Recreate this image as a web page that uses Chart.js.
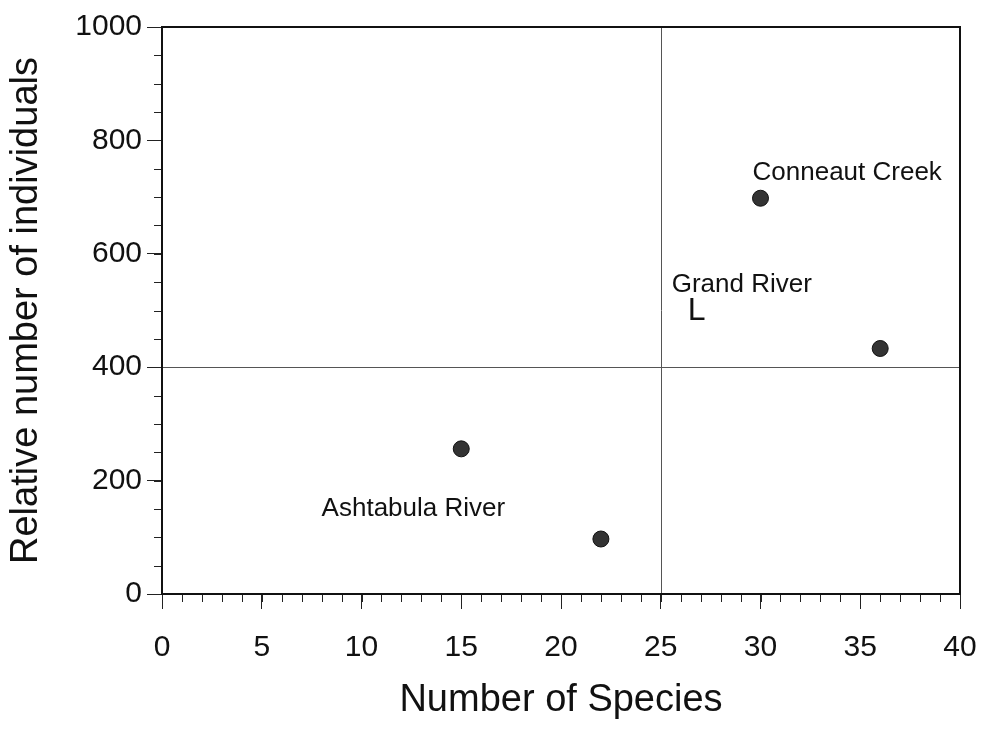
<!DOCTYPE html>
<html>
<head>
<meta charset="utf-8">
<script src="https://cdn.jsdelivr.net/npm/chart.js@4/dist/chart.umd.min.js"></script>
<style>
  html, body { margin: 0; padding: 0; background: #fff; }
  #wrap { width: 985px; height: 729px; }
</style>
</head>
<body>
<div id="wrap"><canvas id="c" width="985" height="729"></canvas></div>
<script>
// Sampling sites: species richness vs. relative abundance
const speciesCount = [15, 22, 30, 36];
const individuals = [256, 97, 698, 433];

// Axis ticks
const xTicks = [0, 5, 10, 15, 20, 25, 30, 35, 40];
const yTicks = [0, 200, 400, 600, 800, 1000];
const xMinorStep = 1;
const yMinorStep = 50;

// Quadrant dividers
const speciesDivider = 25;
const individualsDivider = 400;

// Site names placed in data units
const siteLabels = ['Conneaut Creek', 'Grand River', 'L', 'Ashtabula River'];
const siteLabelX = [29.6, 25.55, 26.35, 8.0];
const siteLabelY = [742, 545, 498, 150];
const siteLabelSize = [26, 26, 32, 26];

const FONT = '"Liberation Sans", Arial, Helvetica, sans-serif';
const INK = '#111';

const decor = {
  id: 'decor',
  beforeDatasetsDraw(chart) {
    const { ctx, chartArea: a, scales: { x, y } } = chart;
    ctx.save();

    // quadrant divider lines
    ctx.strokeStyle = '#555';
    ctx.lineWidth = 1;
    const vx = Math.round(x.getPixelForValue(speciesDivider)) + 0.5;
    const hy = Math.round(y.getPixelForValue(individualsDivider)) + 0.5;
    ctx.beginPath();
    ctx.moveTo(vx, a.top); ctx.lineTo(vx, a.bottom);
    ctx.moveTo(a.left, hy); ctx.lineTo(a.right, hy);
    ctx.stroke();

    // minor ticks, pointing outward
    ctx.strokeStyle = '#222';
    ctx.lineWidth = 1;
    ctx.beginPath();
    for (let v = x.min; v <= x.max; v += xMinorStep) {
      const px = Math.round(x.getPixelForValue(v)) + 0.5;
      ctx.moveTo(px, a.bottom); ctx.lineTo(px, a.bottom + 8);
    }
    for (let v = y.min; v <= y.max; v += yMinorStep) {
      const py = Math.round(y.getPixelForValue(v)) + 0.5;
      ctx.moveTo(a.left, py); ctx.lineTo(a.left - 8, py);
    }
    ctx.stroke();

    // plot frame
    ctx.strokeStyle = '#111';
    ctx.lineWidth = 2;
    ctx.strokeRect(a.left, a.top, a.right - a.left, a.bottom - a.top);
    ctx.restore();
  },
  afterDatasetsDraw(chart) {
    const { ctx, scales: { x, y } } = chart;
    ctx.save();
    ctx.fillStyle = INK;
    ctx.textAlign = 'left';
    ctx.textBaseline = 'middle';
    siteLabels.forEach((t, i) => {
      ctx.font = siteLabelSize[i] + 'px ' + FONT;
      ctx.fillText(t, x.getPixelForValue(siteLabelX[i]), y.getPixelForValue(siteLabelY[i]));
    });
    ctx.restore();
  }
};

new Chart(document.getElementById('c'), {
  type: 'scatter',
  data: {
    datasets: [{
      data: speciesCount.map((s, i) => ({ x: s, y: individuals[i] })),
      pointRadius: 8,
      pointHoverRadius: 8,
      pointBackgroundColor: '#333',
      pointBorderColor: '#111',
      pointBorderWidth: 1
    }]
  },
  options: {
    responsive: false,
    animation: false,
    events: [],
    layout: { padding: { top: 27, right: 25, left: 0, bottom: 0 } },
    plugins: { legend: { display: false }, tooltip: { enabled: false } },
    scales: {
      x: {
        type: 'linear',
        min: 0, max: 40,
        afterBuildTicks: s => { s.ticks = xTicks.map(v => ({ value: v })); },
        afterFit: s => { s.height = 135; s.paddingLeft = 0; s.paddingRight = 0; },
        grid: { display: true, drawOnChartArea: false, drawTicks: true, tickLength: 15, tickColor: '#222', tickWidth: 1 },
        border: { display: false },
        ticks: { color: INK, font: { family: FONT, size: 30 }, padding: 21, maxRotation: 0, callback: v => String(v) },
        title: { display: true, text: 'Number of Species', color: INK, font: { family: FONT, size: 38 }, padding: { top: 0, bottom: 6 } }
      },
      y: {
        type: 'linear',
        min: 0, max: 1000,
        afterBuildTicks: s => { s.ticks = yTicks.map(v => ({ value: v })); },
        afterFit: s => { s.width = 162; s.paddingTop = 0; s.paddingBottom = 0; },
        grid: { display: true, drawOnChartArea: false, drawTicks: true, tickLength: 15, tickColor: '#222', tickWidth: 1 },
        border: { display: false },
        ticks: { color: INK, font: { family: FONT, size: 30 }, padding: 5, callback: v => String(v) },
        title: { display: true, text: 'Relative number of individuals', color: INK, font: { family: FONT, size: 38 }, padding: { top: 4, bottom: 0 } }
      }
    }
  },
  plugins: [decor]
});
</script>
</body>
</html>
